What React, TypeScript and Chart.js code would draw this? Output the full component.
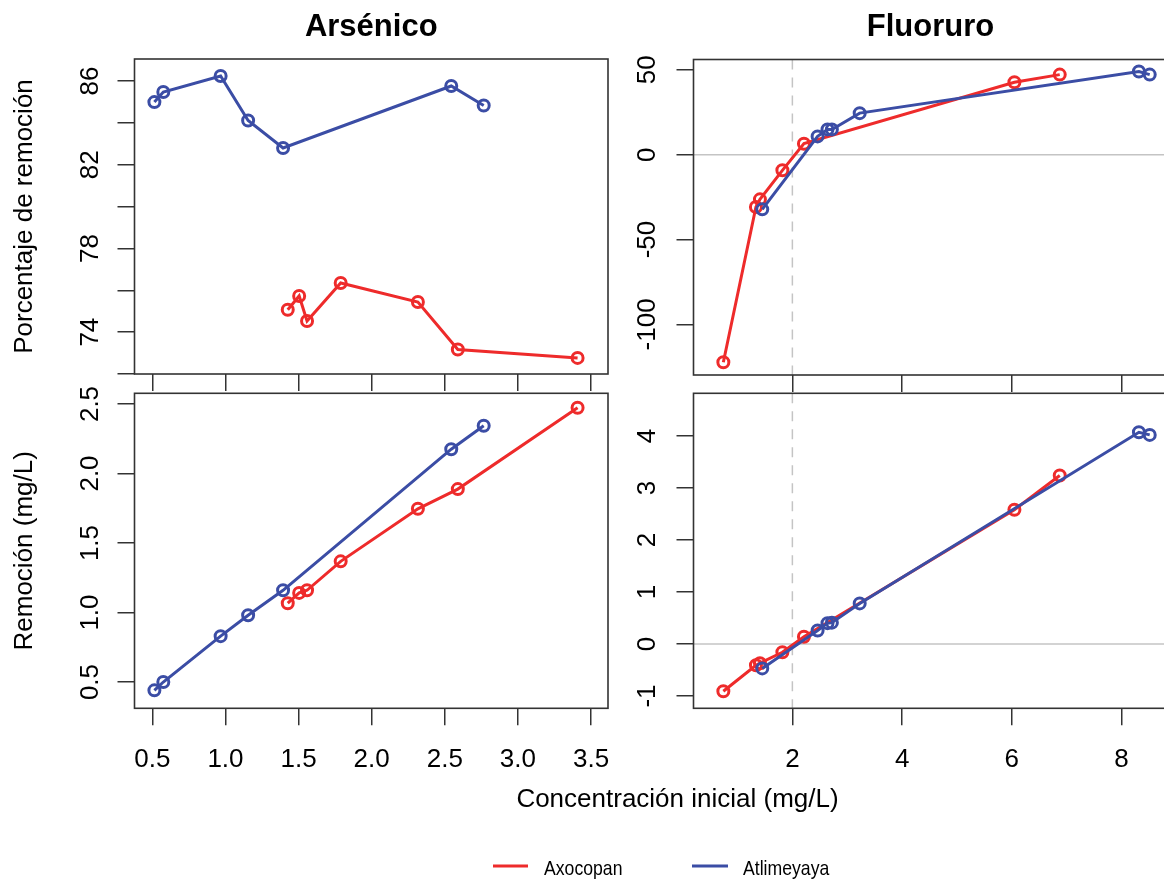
import React, { useEffect, useRef } from 'react';
import { Chart, registerables } from 'chart.js';

Chart.register(...registerables);

// ---------- data ----------
const SERIES_NAMES = ['Axocopan', 'Atlimeyaya'];
const SERIES_COLORS = ['#EE2B2B', '#3B4DA5'];

// Arsénico
const AS_AXO_CONC = [1.426, 1.504, 1.558, 1.788, 2.316, 2.589, 3.408];
const AS_AXO_PCT = [75.07, 75.73, 74.53, 76.35, 75.44, 73.17, 72.77];
const AS_AXO_REM = [1.067, 1.141, 1.16, 1.368, 1.746, 1.888, 2.473];
const AS_ATL_CONC = [0.514, 0.575, 0.967, 1.155, 1.394, 2.544, 2.766];
const AS_ATL_PCT = [84.99, 85.47, 86.24, 84.11, 82.8, 85.76, 84.83];
const AS_ATL_REM = [0.44, 0.5, 0.83, 0.98, 1.16, 2.175, 2.344];

// Fluoruro
const F_AXO_CONC = [0.742, 1.336, 1.409, 1.818, 2.211, 6.047, 6.873];
const F_AXO_PCT = [-122.3, -30.8, -26.3, -9.2, 6.5, 42.7, 47.2];
const F_AXO_REM = [-0.91, -0.41, -0.37, -0.16, 0.14, 2.58, 3.24];
const F_ATL_CONC = [1.451, 2.46, 2.64, 2.72, 3.227, 8.316, 8.513];
const F_ATL_PCT = [-32.2, 10.8, 14.9, 14.9, 24.5, 49, 47.2];
const F_ATL_REM = [-0.47, 0.26, 0.4, 0.41, 0.78, 4.07, 4.02];

// tick values
const AS_X_TICKS = [0.5, 1.0, 1.5, 2.0, 2.5, 3.0, 3.5];
const AS_PCT_TICKS = [72, 74, 76, 78, 80, 82, 84, 86];
const AS_PCT_LABELED = [74, 78, 82, 86];
const AS_REM_TICKS = [0.5, 1.0, 1.5, 2.0, 2.5];
const F_X_TICKS = [2, 4, 6, 8];
const F_PCT_TICKS = [-100, -50, 0, 50];
const F_REM_TICKS = [-1, 0, 1, 2, 3, 4];

const PANEL_TITLES = ['Arsénico', 'Fluoruro'];
const Y_TITLES = ['Porcentaje de remoción', 'Remoción (mg/L)'];
const X_TITLE = 'Concentración inicial (mg/L)';

// ---------- layout / style ----------
const W = 1180;
const H = 881;
const FONT = "'Liberation Sans', Arial, Helvetica, sans-serif";
const BOX = '#333333';
const REF = '#c4c4c4';
const TEXT = '#000000';

type Panel = {
  area: { left: number; top: number; right: number; bottom: number };
  xr: [number, number];
  yr: [number, number];
  xTicks: number[];
  yTicks: number[];
  yLabeled: number[] | null;
  xDec: number;
  xLabels: boolean;
  ref: boolean;
  series: [number[], number[]][];
  title?: string;
  yTitle?: string;
  yLabelX: number;
  shared?: boolean;
};

const PANELS: Panel[] = [
  {
    area: { left: 134.5, top: 59, right: 608, bottom: 374 },
    xr: [0.378, 3.616], yr: [72, 87.05],
    xTicks: AS_X_TICKS, yTicks: AS_PCT_TICKS, yLabeled: AS_PCT_LABELED,
    xDec: 1, xLabels: false, ref: false,
    series: [[AS_AXO_CONC, AS_AXO_PCT], [AS_ATL_CONC, AS_ATL_PCT]],
    title: PANEL_TITLES[0], yTitle: Y_TITLES[0], yLabelX: 88.5,
  },
  {
    area: { left: 134.5, top: 393.3, right: 608, bottom: 708.3 },
    xr: [0.378, 3.616], yr: [0.311, 2.577],
    xTicks: AS_X_TICKS, yTicks: AS_REM_TICKS, yLabeled: null,
    xDec: 1, xLabels: true, ref: false,
    series: [[AS_AXO_CONC, AS_AXO_REM], [AS_ATL_CONC, AS_ATL_REM]],
    yTitle: Y_TITLES[1], yLabelX: 88.5, shared: true,
  },
  {
    area: { left: 693.5, top: 59.5, right: 1167.5, bottom: 375 },
    xr: [0.198, 8.837], yr: [-129.8, 56.1],
    xTicks: F_X_TICKS, yTicks: F_PCT_TICKS, yLabeled: null,
    xDec: 0, xLabels: false, ref: true,
    series: [[F_AXO_CONC, F_AXO_PCT], [F_ATL_CONC, F_ATL_PCT]],
    title: PANEL_TITLES[1], yLabelX: 645.5,
  },
  {
    area: { left: 693.5, top: 393.3, right: 1167.5, bottom: 708.3 },
    xr: [0.198, 8.837], yr: [-1.237, 4.82],
    xTicks: F_X_TICKS, yTicks: F_REM_TICKS, yLabeled: null,
    xDec: 0, xLabels: true, ref: true,
    series: [[F_AXO_CONC, F_AXO_REM], [F_ATL_CONC, F_ATL_REM]],
    yLabelX: 645.5,
  },
];

function yFmt(v: number, ticks: number[]) {
  const hasFrac = ticks.some((t) => Math.abs(t - Math.round(t)) > 1e-9);
  return hasFrac ? v.toFixed(1) : String(v);
}

const decorPlugin = {
  id: 'decor',
  beforeDatasetsDraw(chart: any, _a: any, opts: any) {
    const p: Panel = opts.panel;
    if (!p || !p.ref) return;
    const { ctx, chartArea: a } = chart;
    const xs = chart.scales.x;
    const ys = chart.scales.y;
    ctx.save();
    ctx.strokeStyle = REF;
    ctx.lineWidth = 1.5;
    const y0 = ys.getPixelForValue(0);
    ctx.beginPath();
    ctx.moveTo(a.left, y0);
    ctx.lineTo(a.right, y0);
    ctx.stroke();
    ctx.setLineDash([10, 8]);
    const x2 = xs.getPixelForValue(2);
    ctx.beginPath();
    ctx.moveTo(x2, a.top);
    ctx.lineTo(x2, a.bottom);
    ctx.stroke();
    ctx.restore();
  },
  afterDraw(chart: any, _a: any, opts: any) {
    const p: Panel = opts.panel;
    if (!p) return;
    const { ctx, chartArea: a } = chart;
    const xs = chart.scales.x;
    const ys = chart.scales.y;
    ctx.save();
    ctx.strokeStyle = BOX;
    ctx.lineWidth = 1.6;
    ctx.strokeRect(a.left, a.top, a.right - a.left, a.bottom - a.top);

    ctx.fillStyle = TEXT;
    ctx.font = `26px ${FONT}`;
    ctx.textAlign = 'center';
    ctx.textBaseline = 'alphabetic';
    if (p.xLabels) {
      for (const t of xs.ticks) {
        const px = xs.getPixelForValue(t.value);
        ctx.fillText(Number(t.value).toFixed(p.xDec), px, a.bottom + 59);
      }
    }
    for (const t of ys.ticks) {
      if (p.yLabeled && !p.yLabeled.includes(t.value)) continue;
      const py = ys.getPixelForValue(t.value);
      ctx.save();
      ctx.translate(p.yLabelX, py);
      ctx.rotate(-Math.PI / 2);
      ctx.fillText(yFmt(t.value, p.yTicks), 0, 9.3);
      ctx.restore();
    }
    if (p.yTitle) {
      ctx.save();
      ctx.translate(31.5, (a.top + a.bottom) / 2);
      ctx.rotate(-Math.PI / 2);
      ctx.fillText(p.yTitle, 0, 0);
      ctx.restore();
    }
    if (p.title) {
      ctx.font = `bold 31px ${FONT}`;
      ctx.fillText(p.title, (a.left + a.right) / 2, 36);
    }
    if (p.shared) {
      ctx.font = `26px ${FONT}`;
      ctx.fillText(X_TITLE, 677.5, 807);
      // legend
      const items = [
        { x0: 493, x1: 528, tx: 544 },
        { x0: 692, x1: 728, tx: 743 },
      ];
      ctx.font = `21px ${FONT}`;
      ctx.textAlign = 'left';
      SERIES_NAMES.forEach((name, i) => {
        const it = items[i];
        ctx.strokeStyle = SERIES_COLORS[i];
        ctx.lineWidth = 3;
        ctx.beginPath();
        ctx.moveTo(it.x0, 866);
        ctx.lineTo(it.x1, 866);
        ctx.stroke();
        ctx.fillStyle = TEXT;
        ctx.save();
        ctx.translate(it.tx, 875);
        ctx.scale(0.84, 1);
        ctx.fillText(name, 0, 0);
        ctx.restore();
      });
    }
    ctx.restore();
  },
};

function makeConfig(p: Panel): any {
  const datasets = p.series.map(([xs, ys], i) => ({
    label: SERIES_NAMES[i],
    data: xs.map((x, j) => ({ x, y: ys[j] })),
    borderColor: SERIES_COLORS[i],
    backgroundColor: 'rgba(0,0,0,0)',
    borderWidth: 3,
    tension: 0,
    pointRadius: 5.5,
    pointHoverRadius: 5.5,
    pointBorderWidth: 3,
    pointBorderColor: SERIES_COLORS[i],
    pointBackgroundColor: 'rgba(0,0,0,0)',
    order: i === 1 ? 0 : 1,
  }));
  const grid = {
    drawOnChartArea: false,
    drawTicks: true,
    tickLength: 17,
    color: BOX,
    lineWidth: 1.5,
  };
  return {
    type: 'line',
    data: { datasets },
    plugins: [decorPlugin],
    options: {
      responsive: false,
      animation: false,
      devicePixelRatio: 1,
      events: [],
      layout: {
        padding: {
          left: p.area.left,
          top: p.area.top,
          right: W - p.area.right,
          bottom: H - p.area.bottom,
        },
      },
      plugins: {
        legend: { display: false },
        tooltip: { enabled: false },
        decor: { panel: p },
      },
      scales: {
        x: {
          type: 'linear',
          min: p.xr[0],
          max: p.xr[1],
          afterBuildTicks: (s: any) => { s.ticks = p.xTicks.map((v) => ({ value: v })); },
          afterFit: (s: any) => { s.height = 0; },
          ticks: { display: false },
          grid,
          border: { display: false },
        },
        y: {
          type: 'linear',
          min: p.yr[0],
          max: p.yr[1],
          afterBuildTicks: (s: any) => { s.ticks = p.yTicks.map((v) => ({ value: v })); },
          afterFit: (s: any) => { s.width = 0; },
          ticks: { display: false },
          grid,
          border: { display: false },
        },
      },
    },
  };
}

function PanelCanvas({ panel }: { panel: Panel }) {
  const ref = useRef<HTMLCanvasElement | null>(null);
  useEffect(() => {
    if (!ref.current) return;
    const chart = new Chart(ref.current, makeConfig(panel));
    return () => chart.destroy();
  }, [panel]);
  return (
    <canvas
      ref={ref}
      width={W}
      height={H}
      style={{ position: 'absolute', left: 0, top: 0, width: W, height: H }}
    />
  );
}

export default function App() {
  return (
    <div
      style={{
        position: 'absolute',
        left: 0,
        top: 0,
        width: 1164,
        height: 881,
        overflow: 'hidden',
        background: '#ffffff',
      }}
    >
      {PANELS.map((p, i) => (
        <PanelCanvas key={i} panel={p} />
      ))}
    </div>
  );
}
